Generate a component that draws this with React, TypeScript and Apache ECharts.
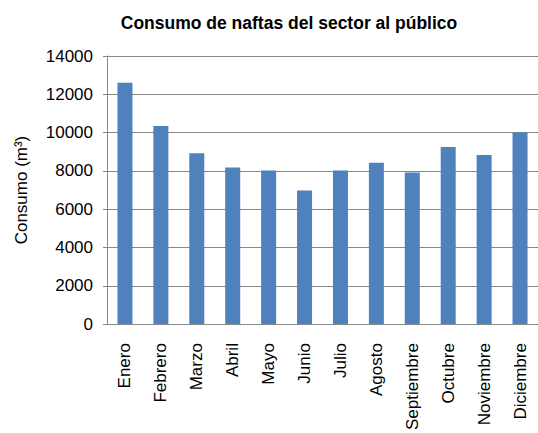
import React, { useEffect, useRef } from "react";
import * as echarts from "echarts";

const categories = ["Enero", "Febrero", "Marzo", "Abril", "Mayo", "Junio", "Julio", "Agosto", "Septiembre", "Octubre", "Noviembre", "Diciembre"];
const consumo = [12600, 10350, 8920, 8180, 8020, 6980, 8020, 8420, 7920, 9250, 8830, 10000];
const titleText = "Consumo de naftas del sector al público";
const yAxisName = "Consumo (m³)";

export default function App() {
  const ref = useRef<HTMLDivElement>(null);
  useEffect(() => {
    if (!ref.current) return;
    const chart = echarts.init(ref.current, null, { renderer: "svg" });
    const font = "Liberation Sans, Arial, sans-serif";
    chart.setOption({
      animation: false,
      backgroundColor: "#ffffff",
      title: {
        text: titleText,
        left: 284,
        top: 9,
        textAlign: "center",
        textStyle: { fontFamily: font, fontSize: 17.5, fontWeight: "bold", color: "#000" },
      },
      grid: { left: 107, top: 56, width: 440, height: 270 },
      xAxis: {
        type: "category",
        data: categories,
        axisLine: { lineStyle: { color: "#878787", width: 1 } },
        axisTick: { show: false },
        axisLabel: {
          rotate: 90,
          margin: 19,
          interval: 0,
          fontFamily: font,
          fontSize: 17,
          color: "#000",
        },
      },
      yAxis: {
        type: "value",
        min: 0,
        max: 14000,
        interval: 2000,
        name: yAxisName,
        nameLocation: "middle",
        nameRotate: 90,
        nameGap: 77,
        nameTextStyle: { fontFamily: font, fontSize: 17, color: "#000" },
        axisLine: { show: true, lineStyle: { color: "#878787", width: 1 } },
        axisTick: { show: true, length: 4, lineStyle: { color: "#878787" } },
        axisLabel: {
          margin: 14,
          fontFamily: font,
          fontSize: 17,
          color: "#000",
          formatter: (v: number) => String(v),
        },
        splitLine: { show: true, lineStyle: { color: "#878787", width: 1 } },
      },
      series: [
        {
          type: "bar",
          data: consumo,
          barWidth: 15,
          itemStyle: { color: "#4f81bd" },
        },
      ],
    });
    return () => chart.dispose();
  }, []);
  return <div ref={ref} style={{ position: "fixed", left: 0, top: 0, width: 538, height: 433 }} />;
}
